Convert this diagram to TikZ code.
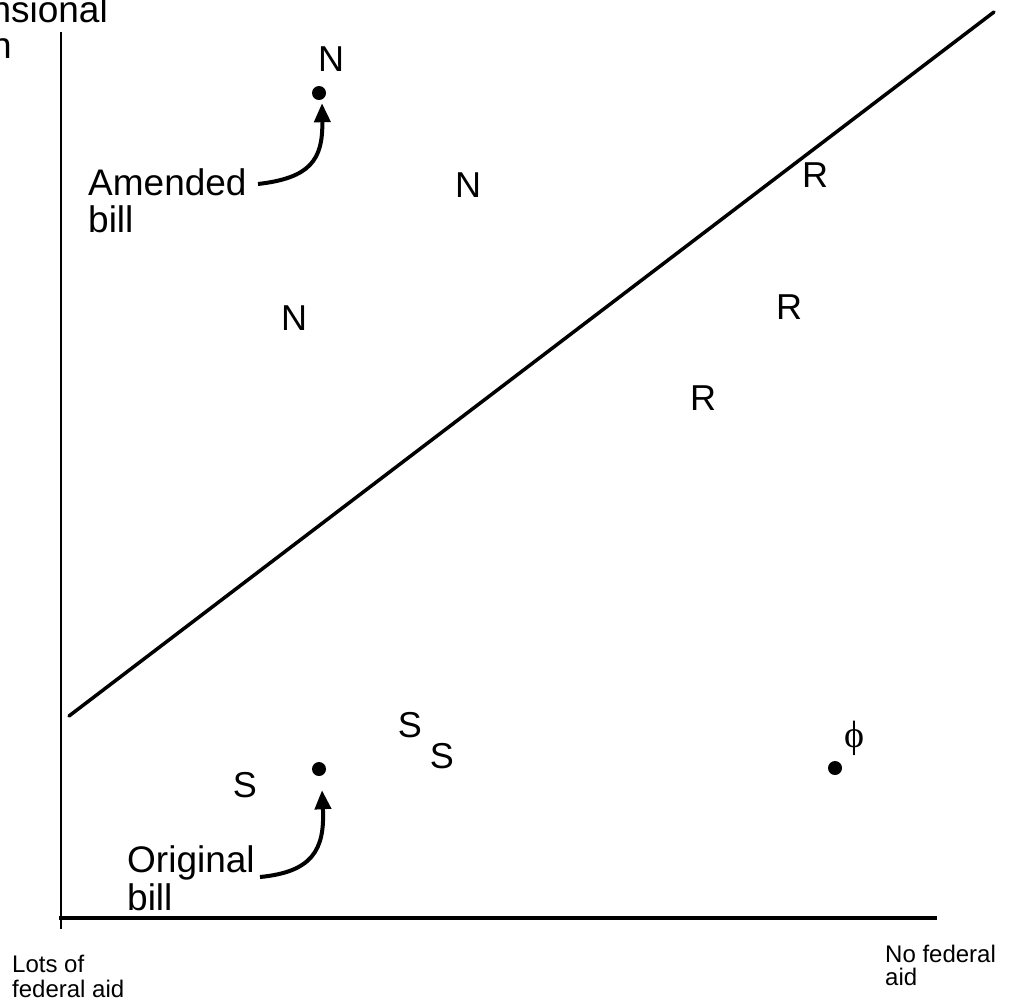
\documentclass[tikz,border=0pt]{standalone}
\usepackage{fontspec}
\setmainfont{Liberation Sans}
\newfontfamily\grserif{Liberation Serif}
\usetikzlibrary{arrows.meta}
\begin{document}
\begin{tikzpicture}[x=1pt,y=-1pt,
  lbl/.style={inner sep=0pt,font=\fontsize{36}{40}\selectfont},
  txt/.style={inner sep=0pt,anchor=base west,font=\fontsize{37}{40}\selectfont},
  small/.style={inner sep=0pt,anchor=base west,font=\fontsize{24}{25}\selectfont},
  dot/.style={circle,fill=black,inner sep=0pt,minimum size=14pt},
  arr/.style={line width=4pt,-{Triangle[width=16pt,length=19pt]}}]
\useasboundingbox (0,0) rectangle (1009,1005);
% cut-off axis title
\node[txt,anchor=base east] (t1) at (108,22) {nsional};
\node[txt,anchor=base east] (t2) at (12,58) {n};
% axes
\coordinate (ytop) at (61,32);
\coordinate (ybot) at (61,929);
\coordinate (xl) at (59,918);
\coordinate (xr) at (937,918);
\draw[line width=2.5pt] (ytop) -- (ybot);
\draw[line width=4.5pt] (xl) -- (xr);
% cutting line
\coordinate (c1) at (69,716);
\coordinate (c2) at (994,12);
\draw[line width=3.5pt,line cap=round] (c1) -- (c2);
% dots
\node[dot] (d1) at (319,93) {};
\node[dot] (d2) at (319,769) {};
\node[dot] (d3) at (835,768) {};
% letters
\node[lbl] (n1) at (331,59) {N};
\node[lbl] (n2) at (468,185) {N};
\node[lbl] (n3) at (294,318) {N};
\node[lbl] (r1) at (815,175) {R};
\node[lbl] (r2) at (789,307) {R};
\node[lbl] (r3) at (703,398) {R};
\node[lbl] (s1) at (410,725) {S};
\node[lbl] (s2) at (442,756) {S};
\node[lbl] (s3) at (245,785) {S};
\node[inner sep=0pt,font=\grserif\fontsize{38}{40}\selectfont] (phi) at (854,738) {ϕ};
% labels
\node[txt] (am1) at (88,195) {Amended};
\node[txt] (am2) at (88,232) {bill};
\node[txt] (or1) at (127,872) {Original};
\node[txt] (or2) at (127,910) {bill};
\coordinate (amS) at (258,184);
\coordinate (orS) at (260,877);
\draw[arr] (amS) .. controls (310,178) and (323,160) .. ([xshift=3pt,yshift=-3pt]d1.south);
\draw[arr] (orS) .. controls (312,872) and (325,850) .. ([xshift=3pt,yshift=-14pt]d2.south);
% axis end labels
\node[small] (lo1) at (12,972) {Lots of};
\node[small] (lo2) at (12,997) {federal aid};
\node[small] (no1) at (885,962) {No federal};
\node[small] (no2) at (885,985) {aid};
\end{tikzpicture}
\end{document}
